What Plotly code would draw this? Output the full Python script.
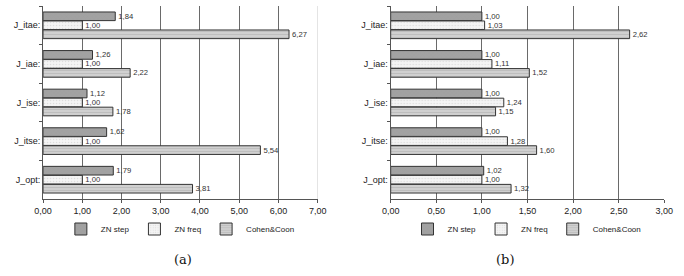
import plotly.graph_objects as go
from plotly.subplots import make_subplots

categories = ["J_itae:", "J_iae:", "J_ise:", "J_itse:", "J_opt:"]
series_names = ["ZN step", "ZN freq", "Cohen&amp;Coon"]

a_zn_step = [1.84, 1.26, 1.12, 1.62, 1.79]
a_zn_freq = [1.00, 1.00, 1.00, 1.00, 1.00]
a_cohen = [6.27, 2.22, 1.78, 5.54, 3.81]

b_zn_step = [1.00, 1.00, 1.00, 1.00, 1.02]
b_zn_freq = [1.03, 1.11, 1.24, 1.28, 1.00]
b_cohen = [2.62, 1.52, 1.15, 1.60, 1.32]

a_ticks = [0, 1, 2, 3, 4, 5, 6, 7]
b_ticks = [0, 0.5, 1, 1.5, 2, 2.5, 3]

W, H = 684, 276
FONT = "Arial"
fills = ["#a2a2a2", "#f4f4f4", "#d0d0d0"]
patterns = [dict(shape="x", fgcolor="#969696", size=3, solidity=0.15),
            dict(shape=".", fgcolor="#c4c4c4", size=3, solidity=0.2),
            dict(shape="-", fgcolor="#a0a0a0", size=3, solidity=0.25)]

fig = make_subplots(rows=1, cols=2)

def add(col, vals_list, legend):
    for name, vals, fc, pat in zip(series_names, vals_list, fills, patterns):
        fig.add_trace(go.Bar(
            y=categories, x=vals, orientation="h", name=name,
            marker=dict(color=fc, line=dict(color="#333333", width=1), pattern=pat),
            text=vals, texttemplate="%{x:.2f}", textposition="outside",
            textfont=dict(size=8, color="#333333", family=FONT),
            cliponaxis=False, legend=legend,
        ), row=1, col=col)

add(1, [a_zn_step, a_zn_freq, a_cohen], "legend")
add(2, [b_zn_step, b_zn_freq, b_cohen], "legend2")

ybot = 1 - 199 / H
ytop = 1 - 6 / H

axfont = dict(size=9, color="#222222", family=FONT)
legfont = dict(size=8, color="#222222", family=FONT)

def xax(domain, ticks):
    return dict(domain=domain, range=[ticks[0], ticks[-1]], tickvals=ticks, tickformat=".2f",
                showgrid=False, zeroline=False,
                minor=dict(tickmode="array", tickvals=ticks[1:-1], showgrid=True,
                           gridcolor="#6a6a6a", gridwidth=1, ticks=""),
                showline=True, linecolor="#555555", ticks="outside", ticklen=3,
                tickcolor="#555555", tickfont=axfont)

def yax():
    return dict(domain=[ybot, ytop], autorange="reversed", showline=True, linecolor="#555555",
                ticks="outside", tickson="boundaries", ticklen=3, tickcolor="#555555",
                tickfont=axfont, showgrid=False)

fig.update_layout(
    width=W, height=H, margin=dict(l=0, r=0, t=0, b=0),
    paper_bgcolor="white", plot_bgcolor="white",
    separators=",.",
    barmode="group", bargap=0.3, bargroupgap=0.04,
    font=dict(family=FONT, size=9, color="#222222"),
    xaxis=xax([35 / W, 317 / W], a_ticks),
    xaxis2=xax([392 / W, 673 / W], b_ticks),
    yaxis=yax(),
    yaxis2=yax(),
    legend=dict(orientation="h", x=176 / W, y=1 - 229 / H, xanchor="center", yanchor="middle",
                font=legfont, itemwidth=30, traceorder="normal", bgcolor="rgba(0,0,0,0)",
                tracegroupgap=0),
    legend2=dict(orientation="h", x=532 / W, y=1 - 229 / H, xanchor="center", yanchor="middle",
                 font=legfont, itemwidth=30, traceorder="normal", bgcolor="rgba(0,0,0,0)",
                 tracegroupgap=0),
    annotations=[
        dict(text="(a)", x=167 / W, y=1 - 250 / H, xref="paper", yref="paper", showarrow=False,
             yanchor="top", font=dict(size=13, family="DejaVu Serif", color="#111111")),
        dict(text="(b)", x=521 / W, y=1 - 250 / H, xref="paper", yref="paper", showarrow=False,
             yanchor="top", font=dict(size=13, family="DejaVu Serif", color="#111111")),
    ],
)
# light right border of the left panel, at the axis maximum
fig.add_shape(type="line", xref="x", yref="y domain", x0=a_ticks[-1], x1=a_ticks[-1],
              y0=0, y1=1, line=dict(color="#cfcfcf", width=1), layer="below")

fig.write_html("out.html")
